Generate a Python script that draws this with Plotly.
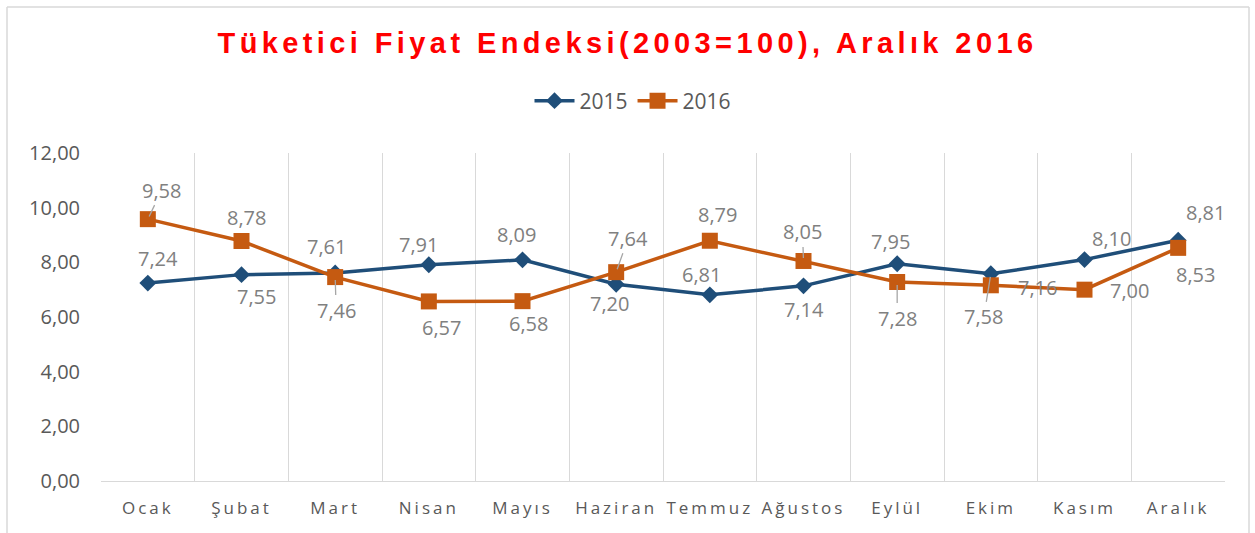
import plotly.graph_objects as go

months = ["Ocak", "Şubat", "Mart", "Nisan", "Mayıs", "Haziran", "Temmuz",
          "Ağustos", "Eylül", "Ekim", "Kasım", "Aralık"]
y2015 = [7.24, 7.55, 7.61, 7.91, 8.09, 7.20, 6.81, 7.14, 7.95, 7.58, 8.10, 8.81]
y2016 = [9.58, 8.78, 7.46, 6.57, 6.58, 7.64, 8.79, 8.05, 7.28, 7.16, 7.00, 8.53]
ytick_vals = [0, 2, 4, 6, 8, 10, 12]
ytick_text = ["0,00", "2,00", "4,00", "6,00", "8,00", "10,00", "12,00"]

BLUE = "#1F4E79"
ORANGE = "#C55A11"
GRAY_TXT = "#595959"
LBL_TXT = "#808080"
GRID = "#D9D9D9"
FONT = "Open Sans"

# label offsets in pixels (dx right, dy up) and leader-line flags
off2015 = [(10, 25), (15, -22), (-9, 26), (-10, 20), (-6, 25), (-7, -19),
           (-8, 20), (0, -24), (-7, 22), (-7, -43), (27, 21), (27, 28)]
lead2015 = [False] * 9 + [True, False, False]
off2016 = [(14, 29), (5, 24), (1, -33), (13, -26), (6, -22), (12, 34),
           (8, 26), (-1, 29), (0, -36), (47, -2), (45, -1), (17, -27)]
lead2016 = [True, False, True, False, False, True, False, True, True, False, False, False]

fig = go.Figure()
fig.add_trace(go.Scatter(x=months, y=y2015, name="2015", mode="lines+markers",
                         line=dict(color=BLUE, width=3.5),
                         marker=dict(symbol="diamond", size=13, color=BLUE)))
fig.add_trace(go.Scatter(x=months, y=y2016, name="2016", mode="lines+markers",
                         line=dict(color=ORANGE, width=3.5),
                         marker=dict(symbol="square", size=16, color=ORANGE)))

def fmt(v):
    return f"{v:.2f}".replace(".", ",")

anns = []
for ys, offs, leads in [(y2015, off2015, lead2015), (y2016, off2016, lead2016)]:
    for m, v, (dx, dy), ld in zip(months, ys, offs, leads):
        a = dict(x=m, y=v, xref="x", yref="y", text=fmt(v),
                 font=dict(family=FONT, size=20, color=LBL_TXT))
        if ld:
            a.update(showarrow=True, ax=dx, ay=-dy, arrowhead=0, arrowwidth=1.3,
                     arrowcolor="#A6A6A6", standoff=3)
        else:
            a.update(showarrow=False, xshift=dx, yshift=dy)
        anns.append(a)

fig.update_layout(
    width=1255, height=533,
    margin=dict(l=101, r=30, t=153, b=52),
    paper_bgcolor="white", plot_bgcolor="white",
    title=dict(text="Tüketici Fiyat Endeksi(2003=100), Aralık 2016",
               font=dict(family="Liberation Sans", size=29, color="#FF0000", weight="bold"),
               x=0.5, xanchor="center", xref="container",
               y=(533 - 43) / 533, yanchor="middle", yref="container"),
    legend=dict(orientation="h", xref="container", yref="container",
                x=633 / 1255, xanchor="center", y=(533 - 101) / 533, yanchor="middle",
                font=dict(family=FONT, size=21, color=GRAY_TXT), itemwidth=40),
    xaxis=dict(type="category", range=[-0.5, 11.5], tickson="boundaries",
               showgrid=True, gridcolor=GRID, gridwidth=1,
               showline=True, linecolor=GRID, linewidth=1, ticks="",
               tickfont=dict(family=FONT, size=17, color=GRAY_TXT),
               ticklabelstandoff=12, zeroline=False),
    yaxis=dict(range=[0, 12], tickvals=ytick_vals, ticktext=ytick_text,
               showgrid=False, zeroline=False, showline=False,
               tickfont=dict(family=FONT, size=20, color=GRAY_TXT),
               ticklabelstandoff=20),
    annotations=anns,
    showlegend=True,
)

# outer chart border (left, top, right)
def px2paper_x(p):
    return (p - 101) / 1124
def px2paper_y(p):
    return (481 - p) / 328
border = dict(type="line", xref="paper", yref="paper", line=dict(color=GRID, width=1.5))
fig.add_shape(**border, x0=px2paper_x(7), x1=px2paper_x(7), y0=px2paper_y(7), y1=px2paper_y(560))
fig.add_shape(**border, x0=px2paper_x(7), x1=px2paper_x(1249), y0=px2paper_y(7), y1=px2paper_y(7))
fig.add_shape(**border, x0=px2paper_x(1249), x1=px2paper_x(1249), y0=px2paper_y(7), y1=px2paper_y(560))

post = """
document.body.style.margin = '0';
document.body.style.padding = '0';
var gd = document.getElementById('{plot_id}');
function ls() {
  gd.querySelectorAll('.gtitle').forEach(function(e){ e.style.letterSpacing = '4.4px'; });
  gd.querySelectorAll('.xtick text').forEach(function(e){ e.style.letterSpacing = '3px'; });
}
ls();
gd.on('plotly_afterplot', ls);
"""
fig.write_html("out.html", post_script=post, config={"displayModeBar": False})
